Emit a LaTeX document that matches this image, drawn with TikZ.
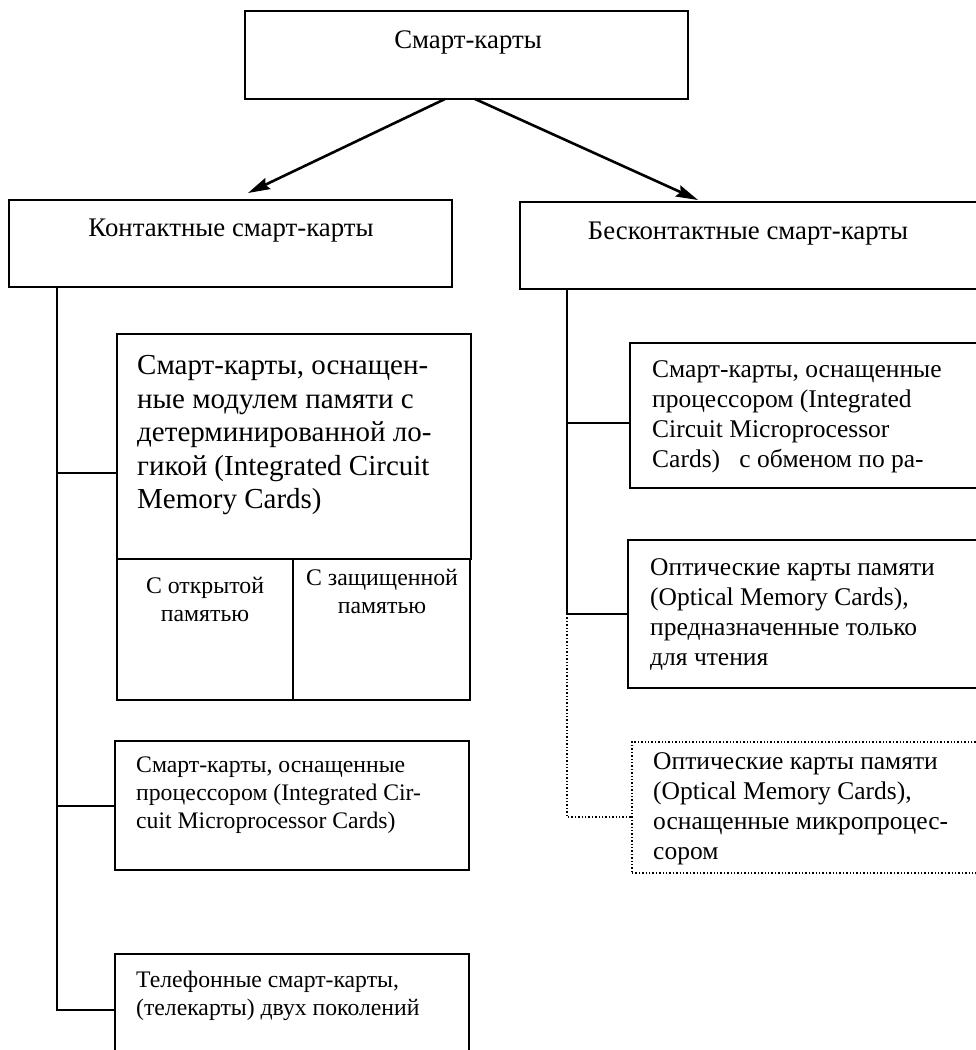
\documentclass[tikz,border=0pt]{standalone}
\usepackage{fontspec}
\setmainfont{Liberation Serif}
\usetikzlibrary{arrows.meta}
\begin{document}
\begin{tikzpicture}[x=1pt,y=-1pt,
  box/.style={draw, line width=2pt, inner sep=0pt, outer sep=0pt, anchor=north west},
  dotbox/.style={draw, dotted, line width=1.4pt, inner sep=0pt, outer sep=0pt, anchor=north west},
  link/.style={line width=2pt},
  dotlink/.style={line width=1.4pt, dotted},
  arr/.style={line width=2.6pt, -{Stealth[length=22pt,width=12pt,inset=3pt]}},
  txt/.style={inner sep=0pt, align=left, anchor=north west},
  ctxt/.style={inner sep=0pt, align=center, anchor=north},
  fhead/.style={font=\fontsize{26.8}{30}\selectfont},
  fbig/.style={font=\fontsize{29}{33.6}\selectfont},
  fsub/.style={font=\fontsize{23.8}{28}\selectfont},
  fleft/.style={font=\fontsize{23.7}{28}\selectfont},
  fright/.style={font=\fontsize{25.5}{30}\selectfont}
]
\useasboundingbox (0,0) rectangle (976,1050);
\clip (0,0) rectangle (976,1050);

% frames
\node[box, minimum width=443, minimum height=88] (top) at (245,11) {};
\node[box, minimum width=443, minimum height=87] (L1) at (9,200) {};
\node[box, minimum width=470, minimum height=87] (R1) at (520,202) {};

\node[box, minimum width=354, minimum height=225] (mem) at (117,334) {};
\node[box, minimum width=176, minimum height=141] (open) at (117,559) {};
\node[box, minimum width=177, minimum height=141] (prot) at (293,559) {};
\node[box, minimum width=354, minimum height=129] (procL) at (115,741) {};
\node[box, minimum width=354, minimum height=111] (tel) at (115,954) {};

\node[box, minimum width=361, minimum height=145] (procR) at (630,343) {};
\node[box, minimum width=362, minimum height=148] (opt) at (628,540) {};
\node[dotbox, minimum width=358, minimum height=131] (dotb) at (632,742) {};

% texts
\node[fhead, inner sep=0pt, anchor=base] (ttop) at (468,48) {Смарт-карты};
\node[fhead, inner sep=0pt, anchor=base] (tL1) at (231,236) {Контактные смарт-карты};
\node[fhead, inner sep=0pt, anchor=base] (tR1) at (748,239) {Бесконтактные смарт-карты};

\node[txt, fbig] (tmem) at (137,355) {Смарт-карты, оснащен-\\ные модулем памяти с\\детерминированной ло-\\гикой (Integrated Circuit\\Memory Cards)};
\node[ctxt, fsub] (topen) at (205,577) {С открытой\\памятью};
\node[ctxt, fsub] (tprot) at (382,569) {С защищенной\\памятью};
\node[txt, fleft] (tprocL) at (136,757) {Смарт-карты, оснащенные\\процессором (Integrated Cir-\\cuit Microprocessor Cards)};
\node[txt, fleft] (ttel) at (136,971) {Телефонные смарт-карты,\\(телекарты) двух поколений};

\node[txt, fright] (tprocR) at (652,360) {Смарт-карты, оснащенные\\процессором (Integrated\\Circuit Microprocessor\\Cards)\ \ \ с обменом по ра-};
\node[txt, fright] (topt) at (650,558) {Оптические карты памяти\\(Optical Memory Cards),\\предназначенные только\\для чтения};
\node[txt, fright] (tdot) at (653,752) {Оптические карты памяти\\(Optical Memory Cards),\\оснащенные микропроцес-\\сором};

% arrows from the root
\coordinate (aL) at (248,193);
\coordinate (aR) at (698,200);
\draw[arr] ([xshift=-21.5pt]top.south) -- (aL);
\draw[arr] ([xshift=8.5pt]top.south) -- (aR);

% contact branch
\draw[link] ([xshift=48pt]L1.south west) |- (tel.west);
\draw[link] ([yshift=-26.5pt]mem.west) -- ++(-60,0);
\draw[link] (procL.west) -- ++(-58,0);

% contactless branch
\draw[link] ([xshift=47pt]R1.south west) |- (opt.west);
\draw[link] ([yshift=-7pt]procR.west) -- ++(-63,0);
\draw[dotlink] ([xshift=-61pt]opt.west) |- ([yshift=-9.5pt]dotb.west);
\end{tikzpicture}
\end{document}
